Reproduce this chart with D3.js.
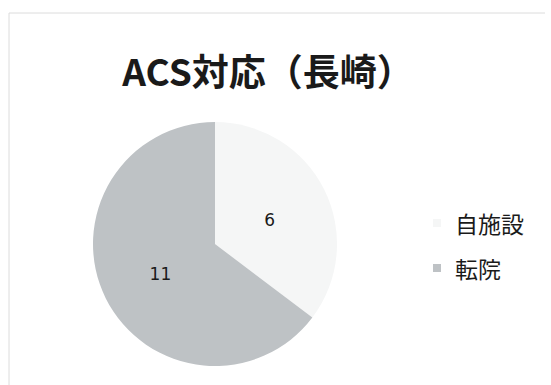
<!DOCTYPE html>
<html>
<head>
<meta charset="utf-8">
<script src="https://cdn.jsdelivr.net/npm/d3@7"></script>
<style>
  html, body { margin: 0; padding: 0; background: #fff; }
  svg { display: block; }
</style>
</head>
<body>
<svg id="chart" width="551" height="385"></svg>
<script>
// Pie chart data: ACS cases in Nagasaki
const categories = ["自施設", "転院"];
const values = [6, 11];
const sliceColors = ["#f5f6f6", "#bec2c5"];
const chartTitle = "ACS対応（長崎）";

const width = 551, height = 385;
const svg = d3.select("#chart");

// faint frame around the chart area
svg.append("line").attr("x1", 9).attr("x2", 545).attr("y1", 13).attr("y2", 13)
  .attr("stroke", "#dcdcdc").attr("stroke-width", 1);
svg.append("line").attr("x1", 9).attr("x2", 9).attr("y1", 13).attr("y2", 385)
  .attr("stroke", "#dcdcdc").attr("stroke-width", 1);

// title
svg.append("text")
  .attr("x", 268).attr("y", 86)
  .attr("text-anchor", "middle")
  .attr("font-family", "'Noto Sans CJK JP', sans-serif")
  .attr("font-weight", "bold")
  .attr("font-size", 37)
  .attr("fill", "#1a1a1a")
  .text(chartTitle);

// pie
const cx = 215, cy = 244, R = 122;
const pie = d3.pie().sort(null).value(d => d.value);
const data = pie(categories.map((c, i) => ({ name: c, value: values[i] })));
const arc = d3.arc().innerRadius(0).outerRadius(R);
const labelArc = d3.arc().innerRadius(R * 0.5).outerRadius(R * 0.5);
const color = d3.scaleOrdinal().domain(categories).range(sliceColors);

const g = svg.append("g").attr("transform", `translate(${cx},${cy})`);
g.selectAll("path.slice")
  .data(data)
  .join("path")
  .attr("class", "slice")
  .attr("d", arc)
  .attr("fill", d => color(d.data.name));

g.selectAll("text.val")
  .data(data)
  .join("text")
  .attr("class", "val")
  .attr("transform", d => `translate(${labelArc.centroid(d)})`)
  .attr("dy", 3)
  .attr("text-anchor", "middle")
  .attr("dominant-baseline", "central")
  .attr("font-family", "'DejaVu Sans', sans-serif")
  .attr("font-size", 17)
  .attr("fill", "#1a1a1a")
  .text(d => d.data.value);

// legend
const legendY = d3.scalePoint().domain(categories).range([223, 268]);
const lg = svg.append("g");
const items = lg.selectAll("g.item")
  .data(categories)
  .join("g")
  .attr("class", "item")
  .attr("transform", d => `translate(0,${legendY(d)})`);
items.append("rect")
  .attr("x", 433).attr("y", -4).attr("width", 8).attr("height", 8)
  .attr("fill", d => color(d));
items.append("text")
  .attr("x", 455)
  .attr("dominant-baseline", "central")
  .attr("font-family", "'Noto Sans CJK JP', sans-serif")
  .attr("font-size", 23)
  .attr("fill", "#1a1a1a")
  .text(d => d);
</script>
</body>
</html>
